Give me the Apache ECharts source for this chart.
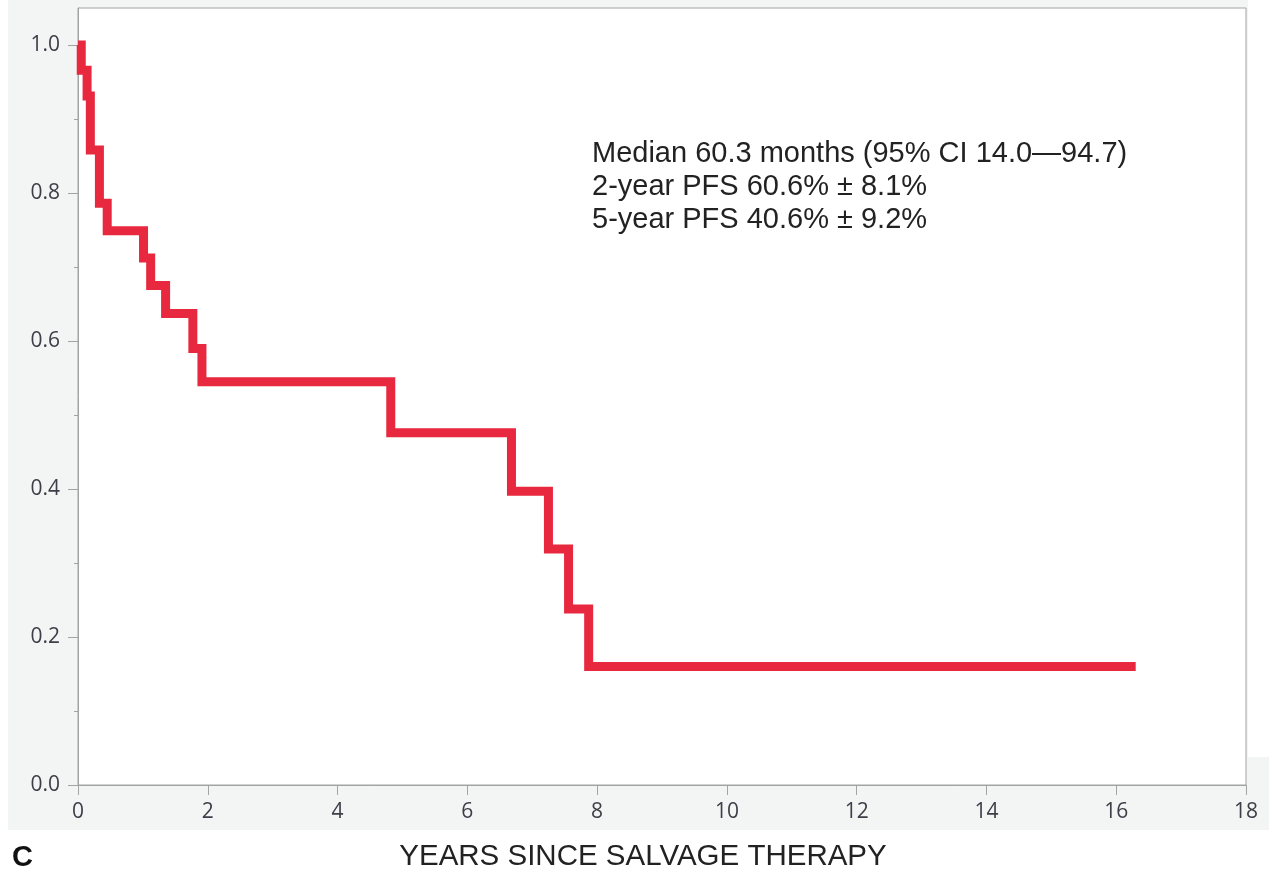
<!DOCTYPE html>
<html>
<head>
<meta charset="utf-8">
<title>PFS</title>
<script src="https://cdn.jsdelivr.net/npm/echarts@6/dist/echarts.min.js"></script>
<style>
	html, body {
		margin: 0;
		padding: 0;
		background: #fff;
	}
	#chart {
		width: 1269px;
		height: 872px;
	}
</style>
</head>
<body>
<div id="chart"></div>
<script>
	// 读图得到的数据（年, 生存率）
	const timeYears = [0, 0.05, 0.14, 0.19, 0.33, 0.45, 1.01, 1.12, 1.35, 1.77, 1.91, 4.82, 6.68, 7.25, 7.56, 7.87, 16.3];
	const survival = [1.0, 0.966, 0.931, 0.858, 0.786, 0.749, 0.712, 0.675, 0.637, 0.590, 0.545, 0.476, 0.397, 0.319, 0.238, 0.160, 0.160];
	const yMajorTicks = [0, 0.2, 0.4, 0.6, 0.8, 1.0];
	const yMinorTicks = [0.1, 0.3, 0.5, 0.7, 0.9];
	const noteLines = [
		"Median 60.3 months (95% CI 14.0\u201494.7)",
		"2-year PFS 60.6% \u00b1 8.1%",
		"5-year PFS 40.6% \u00b1 9.2%"
	];
	const xTitle = "YEARS SINCE SALVAGE THERAPY";
	const panelLabel = "C";

	const lineColor = "#e8283e";
	const axisColor = "#a3a3a3";
	const labelColor = "#3f3d48";

	const chart = echarts.init(document.getElementById("chart"), null, { renderer: "canvas" });

	const option = {
		backgroundColor: "#fff",
		animation: false,
		grid: {
			left: 78,
			right: 23,
			top: 8,
			bottom: 87,
			show: true,
			backgroundColor: "#fff",
			borderColor: axisColor,
			borderWidth: 1
		},
		xAxis: {
			type: "value",
			min: 0,
			max: 18,
			interval: 2,
			axisLine: { show: true, lineStyle: { color: axisColor, width: 1 } },
			axisTick: { show: true, inside: false, length: 10, lineStyle: { color: axisColor } },
			axisLabel: {
				color: labelColor,
				fontFamily: "Open Sans",
				fontSize: 21,
				margin: 17
			},
			splitLine: { show: false }
		},
		yAxis: [{
			type: "value",
			min: 0,
			max: 1.05,
			interval: 0.2,
			axisLine: { show: true, lineStyle: { color: axisColor, width: 1 } },
			axisTick: {
				show: true,
				inside: false,
				length: 10,
				customValues: yMajorTicks,
				lineStyle: { color: axisColor }
			},
			axisLabel: {
				color: labelColor,
				fontFamily: "Open Sans",
				fontSize: 21,
				margin: 18,
				customValues: yMajorTicks,
				formatter: v => v.toFixed(1)
			},
			splitLine: { show: false }
		}, {
			// 次刻度（0.1 间隔的小刻度）
			type: "value",
			position: "left",
			min: 0,
			max: 1.05,
			interval: 0.1,
			axisLine: { show: false },
			axisTick: {
				show: true,
				inside: false,
				length: 4,
				customValues: yMinorTicks,
				lineStyle: { color: axisColor }
			},
			axisLabel: { show: false },
			splitLine: { show: false }
		}],
		graphic: [{
			// 外框灰色底
			type: "rect",
			z: -10,
			silent: true,
			shape: { x: 8, y: 0, width: 1261, height: 830 },
			style: { fill: "#f3f5f5" }
		}, {
			type: "rect",
			z: -9,
			silent: true,
			shape: { x: 1248, y: 0, width: 21, height: 757 },
			style: { fill: "#fff" }
		}, {
			type: "text",
			left: 592,
			top: 137,
			z: 50,
			style: {
				text: noteLines.join("\n"),
				font: "29px 'Liberation Sans', Arial, sans-serif",
				lineHeight: 33,
				fill: "#222"
			}
		}, {
			type: "text",
			x: 643,
			y: 857,
			z: 50,
			style: {
				text: xTitle,
				font: "29.5px 'Liberation Sans', Arial, sans-serif",
				fill: "#222",
				align: "center",
				verticalAlign: "middle"
			}
		}, {
			type: "text",
			x: 12,
			y: 858,
			z: 50,
			style: {
				text: panelLabel,
				font: "bold 29px 'Liberation Sans', Arial, sans-serif",
				fill: "#111",
				align: "left",
				verticalAlign: "middle"
			}
		}],
		series: [{
			name: "PFS",
			type: "line",
			step: "end",
			data: timeYears.map((t, i) => [t, survival[i]]),
			showSymbol: false,
			symbol: "none",
			clip: false,
			lineStyle: {
				color: lineColor,
				width: 9,
				cap: "butt",
				join: "miter"
			}
		}]
	};

	chart.setOption(option);
</script>
</body>
</html>
